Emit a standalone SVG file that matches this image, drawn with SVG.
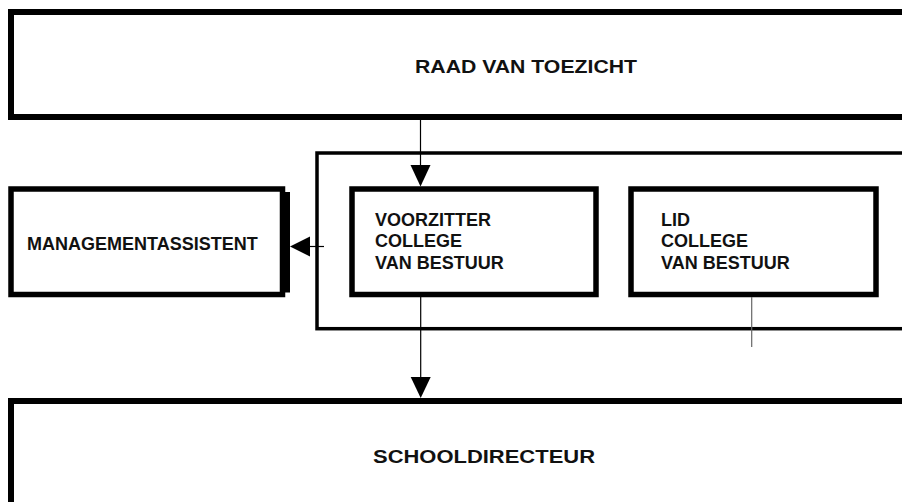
<svg xmlns="http://www.w3.org/2000/svg" width="902" height="502" viewBox="0 0 902 502">
<defs>
<style>
.big{fill:#fff;stroke:#000;stroke-width:6}
.box{fill:#fff;stroke:#000;stroke-width:5.5}
.frame{fill:none;stroke:#000;stroke-width:3.5}
.t{font-family:"Liberation Sans",Arial,sans-serif;font-weight:bold;font-size:18px;fill:#111}
.ln{stroke:#000;stroke-width:1.2;fill:none}
.gl{stroke:#666;stroke-width:1.2;fill:none}
</style>
</defs>
<rect width="902" height="502" fill="#fff"/>
<g id="raad">
<rect class="big" x="11" y="12" width="900" height="105"/>
<text class="t" x="526" y="73" text-anchor="middle" font-size="18.5" textLength="222" lengthAdjust="spacingAndGlyphs">RAAD VAN TOEZICHT</text>
</g>
<g id="college">
<rect class="frame" x="317" y="153" width="600" height="175.7"/>
</g>
<g id="managementassistent">
<rect x="285" y="192" width="5" height="100.5" fill="#000"/>
<rect class="box" x="11" y="189" width="271.5" height="105.5"/>
<text class="t" x="27" y="250" font-size="18.5">MANAGEMENTASSISTENT</text>
</g>
<g id="voorzitter">
<rect class="box" x="352" y="189" width="244" height="105.5"/>
<text class="t" x="375" y="225.5">VOORZITTER</text>
<text class="t" x="375" y="247">COLLEGE</text>
<text class="t" x="375" y="268.5">VAN BESTUUR</text>
</g>
<g id="lid">
<rect class="box" x="631" y="189" width="245" height="105.5"/>
<text class="t" x="661" y="225.5">LID</text>
<text class="t" x="661" y="247">COLLEGE</text>
<text class="t" x="661" y="268.5">VAN BESTUUR</text>
</g>
<g id="schooldirecteur">
<rect class="big" x="11" y="401" width="900" height="120"/>
<text class="t" x="484" y="463" text-anchor="middle" font-size="19" textLength="222" lengthAdjust="spacingAndGlyphs">SCHOOLDIRECTEUR</text>
</g>
<g id="connectors">
<line class="ln" x1="420.5" y1="120" x2="420.5" y2="166"/>
<polygon points="410.5,165 430.5,165 420.5,186.5" fill="#000"/>
<line class="ln" x1="420.7" y1="297" x2="420.7" y2="378"/>
<polygon points="410.7,377 430.7,377 420.7,398" fill="#000"/>
<line class="ln" x1="308" y1="246.5" x2="324" y2="246.5"/>
<polygon points="290,246.5 310,236.5 310,256.5" fill="#000"/>
<line class="gl" x1="751.7" y1="297" x2="751.7" y2="347"/>
</g>
</svg>
